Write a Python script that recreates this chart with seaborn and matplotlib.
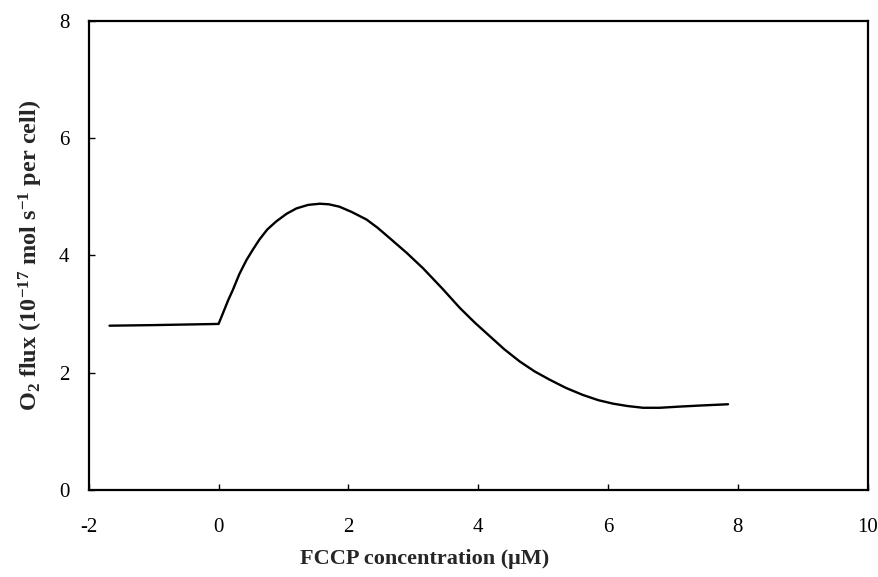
import matplotlib
matplotlib.use("Agg")
import matplotlib.pyplot as plt
import seaborn as sns
import pandas as pd

# Data
fccp_uM = [-1.68, -1.0, -0.5, 0.0, 0.07, 0.15, 0.22, 0.32, 0.43, 0.53, 0.63,
           0.75, 0.89, 1.05, 1.20, 1.38, 1.56, 1.70, 1.86, 2.05, 2.28, 2.45,
           2.64, 2.90, 3.15, 3.45, 3.72, 3.95, 4.18, 4.40, 4.64, 4.87, 5.10,
           5.35, 5.61, 5.85, 6.08, 6.30, 6.54, 6.80, 7.10, 7.45, 7.85]
o2_flux = [2.80, 2.81, 2.82, 2.83, 3.02, 3.24, 3.41, 3.68, 3.92, 4.10, 4.27,
           4.44, 4.58, 4.71, 4.80, 4.86, 4.88, 4.87, 4.83, 4.74, 4.61, 4.47,
           4.29, 4.04, 3.78, 3.43, 3.10, 2.85, 2.62, 2.40, 2.19, 2.02, 1.88,
           1.74, 1.62, 1.53, 1.47, 1.43, 1.40, 1.40, 1.42, 1.44, 1.46]
x_ticks = [-2, 0, 2, 4, 6, 8, 10]
y_ticks = [0, 2, 4, 6, 8]

df = pd.DataFrame({"FCCP": fccp_uM, "flux": o2_flux})

sns.set_style("ticks")
plt.rcParams["font.family"] = ["Liberation Serif", "DejaVu Serif"]
plt.rcParams["axes.unicode_minus"] = False
plt.rcParams["mathtext.fontset"] = "custom"
plt.rcParams["mathtext.rm"] = "Liberation Serif:bold"
plt.rcParams["mathtext.bf"] = "Liberation Serif:bold"
plt.rcParams["mathtext.default"] = "rm"

fig = plt.figure(figsize=(8.79, 5.77), dpi=100)
ax = fig.add_axes([0.101, 0.151, 0.886, 0.813])

sns.lineplot(data=df, x="FCCP", y="flux", ax=ax, color="black",
             linewidth=1.7, sort=False, estimator=None)

ax.set_xlim(-2, 10)
ax.set_ylim(0, 8)
ax.set_xticks(x_ticks)
ax.set_yticks(y_ticks)
ax.set_xticklabels([str(t) for t in x_ticks])
ax.set_yticklabels([str(t) for t in y_ticks])
ax.tick_params(axis="both", direction="in", length=4, width=1,
               labelsize=15, colors="black")
ax.tick_params(axis="x", pad=20)
ax.tick_params(axis="y", pad=14)

for s in ax.spines.values():
    s.set_visible(True)
    s.set_color("black")
    s.set_linewidth(1.6)

ax.set_xlabel("FCCP concentration (\u03bcM)", fontsize=16, fontweight="bold")
ax.xaxis.set_label_coords(0.431, -0.127)
ax.set_ylabel(r"O$_{2}$ flux (10$^{-17}$ mol s$^{-1}$ per cell)",
              fontsize=17.5, fontweight="bold", labelpad=10)

fig.savefig("out.png", dpi=100, facecolor="white")
